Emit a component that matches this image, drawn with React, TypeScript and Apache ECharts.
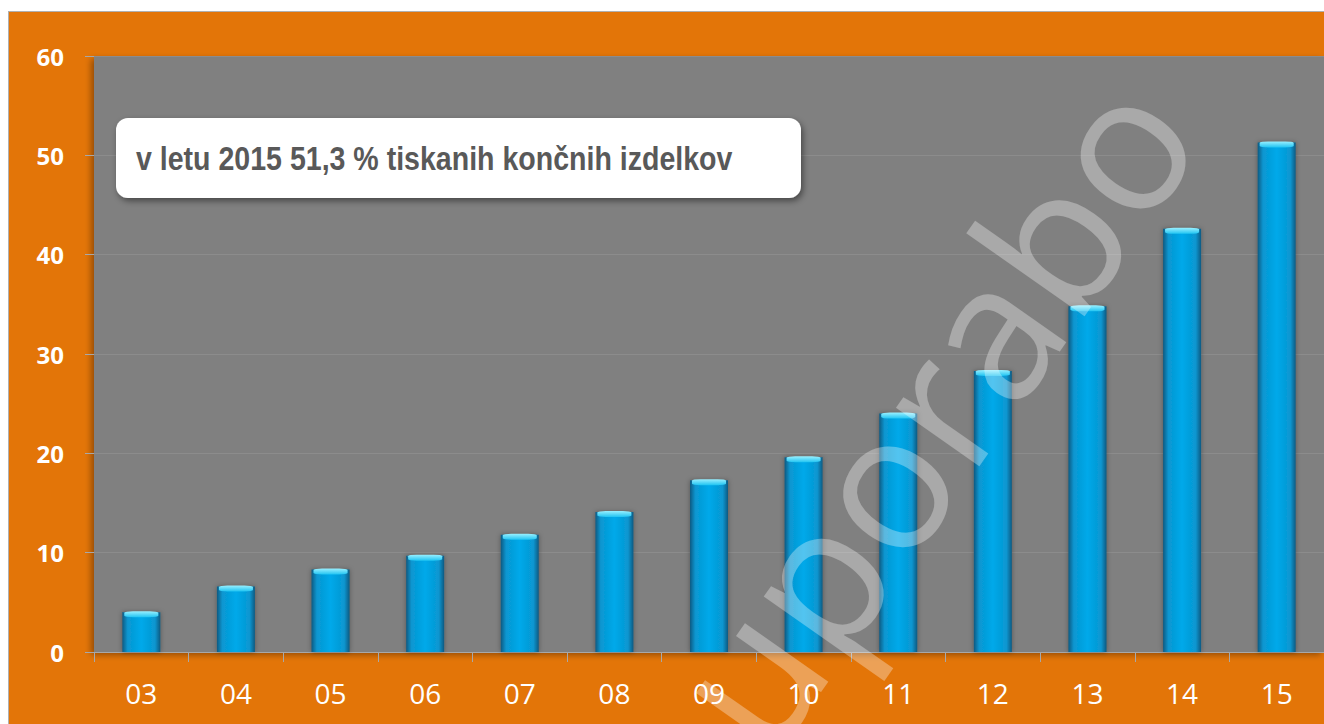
import React, { useEffect, useRef } from "react";
import * as echarts from "echarts";

const categories = ["03", "04", "05", "06", "07", "08", "09", "10", "11", "12", "13", "14", "15"];
const values = [4.0, 6.6, 8.3, 9.7, 11.8, 14.1, 17.3, 19.6, 24.0, 28.3, 34.8, 42.6, 51.3];
const yTicks = { min: 0, max: 60, interval: 10 };
const noteText = "v letu 2015 51,3 % tiskanih končnih izdelkov";
const watermarkText = "uporabo";

export default function App() {
  const ref = useRef<HTMLDivElement>(null);
  useEffect(() => {
    if (!ref.current) return;
    const chart = echarts.init(ref.current, null, { renderer: "svg" });
    const barGrad = new echarts.graphic.LinearGradient(0, 0, 1, 0, [
      { offset: 0, color: "#0b5a82" },
      { offset: 0.14, color: "#0896d0" },
      { offset: 0.5, color: "#02a9ea" },
      { offset: 0.86, color: "#0896d0" },
      { offset: 1, color: "#0b5a82" },
    ]);
    const capGrad = new echarts.graphic.LinearGradient(0, 0, 0, 1, [
      { offset: 0, color: "#9af0ff" },
      { offset: 1, color: "#20c4f2" },
    ]);
    chart.setOption({
      animation: false,
      backgroundColor: "#e37508",
      grid: {
        left: 85,
        right: -9,
        top: 44,
        bottom: 72,
        show: true,
        backgroundColor: "#808080",
        borderWidth: 0,
        shadowColor: "rgba(0,0,0,0.35)",
        shadowBlur: 6,
        shadowOffsetX: -3,
        shadowOffsetY: 3,
      },
      xAxis: {
        type: "category",
        data: categories,
        axisLine: { show: true, lineStyle: { color: "#a8a8a8", width: 1 } },
        axisTick: { show: true, length: 10, lineStyle: { color: "#a8a8a8" } },
        axisLabel: {
          color: "#ffffff",
          fontFamily: "Open Sans",
          fontSize: 28,
          margin: 27,
        },
      },
      yAxis: {
        type: "value",
        min: yTicks.min,
        max: yTicks.max,
        interval: yTicks.interval,
        axisLine: { show: false },
        axisTick: { show: true, length: 9, lineStyle: { color: "#a8a8a8" } },
        splitLine: { show: true, lineStyle: { color: "#8c8c8c", width: 1 } },
        axisLabel: {
          color: "#ffffff",
          fontFamily: "Open Sans",
          fontWeight: "bold",
          fontSize: 24,
          margin: 30,
        },
      },
      series: [
        {
          type: "bar",
          data: values,
          barWidth: 38,
          itemStyle: {
            color: barGrad,
            shadowColor: "rgba(0,0,0,0.35)",
            shadowBlur: 5,
          },
          z: 2,
        },
        {
          type: "pictorialBar",
          data: values,
          symbol: "roundRect",
          symbolSize: [34, 6],
          symbolPosition: "end",
          symbolOffset: [0, -1],
          itemStyle: { color: capGrad },
          z: 3,
          silent: true,
        },
      ],
      graphic: [
        {
          type: "rect",
          z: 100,
          shape: { x: 107, y: 106, width: 685, height: 80, r: 12 },
          style: {
            fill: "#ffffff",
            shadowColor: "rgba(0,0,0,0.45)",
            shadowBlur: 6,
            shadowOffsetX: 2,
            shadowOffsetY: 3,
          },
        },
        {
          type: "text",
          z: 101,
          x: 127,
          y: 147,
          scaleX: 0.84,
          style: {
            text: noteText,
            font: "bold 34px 'Liberation Sans', Arial, sans-serif",
            fill: "#595959",
            textAlign: "left",
            textVerticalAlign: "middle",
          },
        },
        {
          type: "text",
          z: 120,
          x: 920,
          y: 398,
          rotation: (55 * Math.PI) / 180,
          silent: true,
          style: {
            text: watermarkText,
            font: "190px 'Open Sans', sans-serif",
            fill: "rgba(255,255,255,0.32)",
            textAlign: "center",
            textVerticalAlign: "middle",
          },
        },
      ],
    });
    return () => chart.dispose();
  }, []);
  return (
    <div
      ref={ref}
      style={{
        position: "fixed",
        left: 8,
        top: 11,
        width: 1316,
        height: 713,
        borderTop: "1px solid #b0b0b0",
        borderLeft: "1px solid #b0b0b0",
        boxSizing: "border-box",
      }}
    />
  );
}
